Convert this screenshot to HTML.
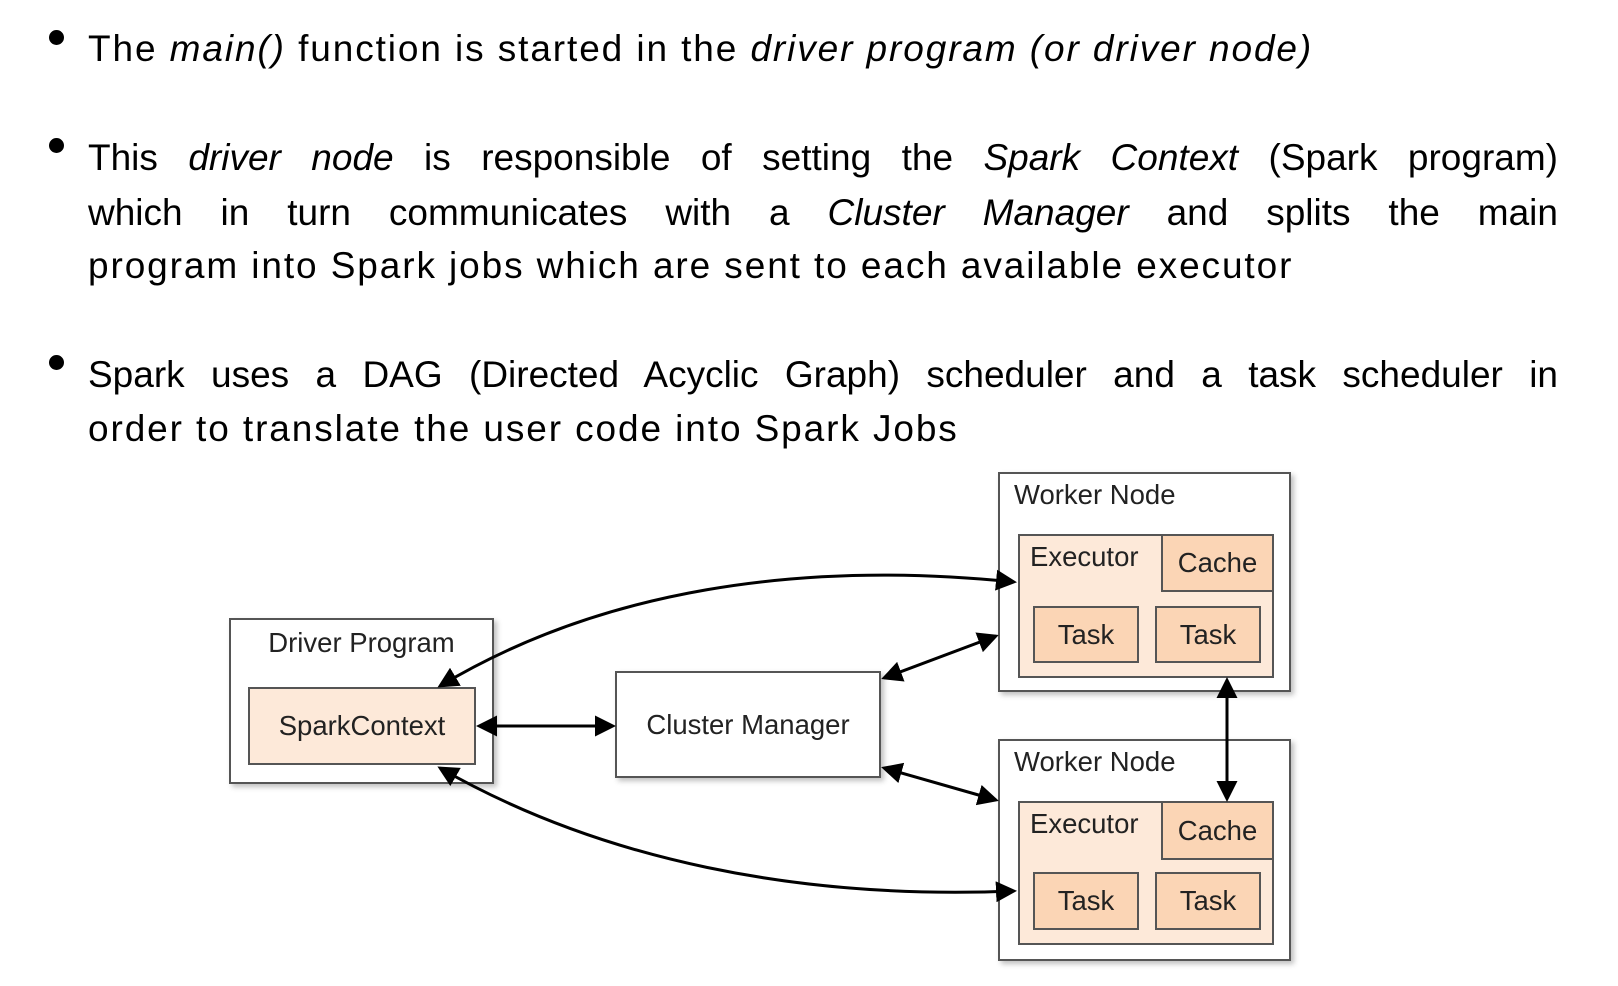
<!DOCTYPE html>
<html><head><meta charset="utf-8"><style>
body{margin:0;width:1618px;height:986px;background:#fff;overflow:hidden;position:relative;font-family:"Liberation Sans",sans-serif;}
.l{position:absolute;left:88px;width:1470px;font-size:37px;color:#000;white-space:nowrap;line-height:1;letter-spacing:1.9px;}
.j{text-align:justify;text-align-last:justify;white-space:normal;letter-spacing:0;}
.b{position:absolute;width:15px;height:15px;border-radius:50%;background:#000;left:49px;}
.bx{position:absolute;box-sizing:border-box;border:2px solid #555;font-size:27.5px;color:#222;}
.sh{box-shadow:3px 3px 5px rgba(0,0,0,0.25);}
.c{display:flex;align-items:center;justify-content:center;}
.ex{background:#fde9d9;}
.tk{background:#fbd5b5;}
</style></head><body>
<div class="b" style="top:30px"></div>
<div class="b" style="top:138px"></div>
<div class="b" style="top:355px"></div>
<div class="l" style="top:30px">The <i>main()</i> function is started in the <i>driver program (or driver node)</i></div>
<div class="l j" style="top:139px">This <i>driver node</i> is responsible of setting the <i>Spark Context</i> (Spark program)</div>
<div class="l j" style="top:194px">which in turn communicates with a <i>Cluster Manager</i> and splits the main</div>
<div class="l" style="top:247px">program into Spark jobs which are sent to each available executor</div>
<div class="l j" style="top:356px">Spark uses a DAG (Directed Acyclic Graph) scheduler and a task scheduler in</div>
<div class="l" style="top:410px">order to translate the user code into Spark Jobs</div>

<div class="bx sh" style="left:229px;top:618px;width:265px;height:166px;">
<div style="position:absolute;left:0;right:0;top:7px;text-align:center;">Driver Program</div></div>
<div class="bx ex c" style="left:248px;top:687px;width:228px;height:78px;">SparkContext</div>
<div class="bx sh c" style="left:615px;top:671px;width:266px;height:107px;">Cluster Manager</div>

<div class="bx sh" style="left:998px;top:472px;width:293px;height:220px;"><div style="position:absolute;left:14px;top:5px">Worker Node</div></div>
<div class="bx ex" style="left:1018px;top:534px;width:256px;height:144px;"><div style="position:absolute;left:10px;top:5px">Executor</div></div>
<div class="bx tk c" style="left:1161px;top:534px;width:113px;height:58px;">Cache</div>
<div class="bx tk c" style="left:1033px;top:606px;width:106px;height:57px;">Task</div>
<div class="bx tk c" style="left:1155px;top:606px;width:106px;height:57px;">Task</div>

<div class="bx sh" style="left:998px;top:739px;width:293px;height:222px;"><div style="position:absolute;left:14px;top:5px">Worker Node</div></div>
<div class="bx ex" style="left:1018px;top:801px;width:256px;height:144px;"><div style="position:absolute;left:10px;top:5px">Executor</div></div>
<div class="bx tk c" style="left:1161px;top:801px;width:113px;height:59px;">Cache</div>
<div class="bx tk c" style="left:1033px;top:872px;width:106px;height:58px;">Task</div>
<div class="bx tk c" style="left:1155px;top:872px;width:106px;height:58px;">Task</div>

<svg width="1618" height="986" style="position:absolute;left:0;top:0">
<defs><marker id="a" markerWidth="7" markerHeight="7" refX="6" refY="3.5" orient="auto" markerUnits="strokeWidth"><path d="M0,0 L7,3.5 L0,7 Z" fill="#000"/></marker>
<marker id="s" markerWidth="7" markerHeight="7" refX="1" refY="3.5" orient="auto" markerUnits="strokeWidth"><path d="M7,0 L0,3.5 L7,7 Z" fill="#000"/></marker></defs>
<g stroke="#000" stroke-width="3" fill="none" marker-start="url(#s)" marker-end="url(#a)">
<line x1="479" y1="726" x2="613" y2="726"/>
<path d="M440,686 C600,590 800,560 1014,582"/>
<path d="M440,768 C600,860 800,900 1014,891"/>
<line x1="884" y1="678" x2="996" y2="636"/>
<line x1="884" y1="768" x2="996" y2="800"/>
<line x1="1227" y1="680" x2="1227" y2="799"/>
</g></svg>
</body></html>
